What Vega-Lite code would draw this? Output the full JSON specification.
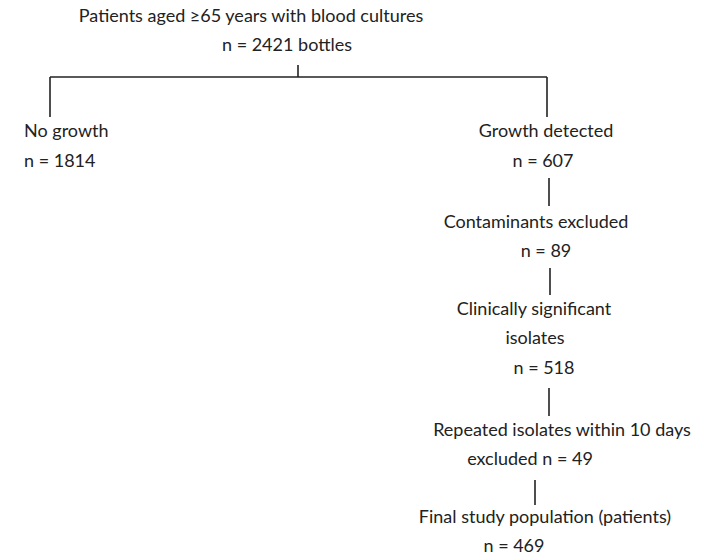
{
  "$schema": "https://vega.github.io/schema/vega-lite/v6.json",
  "width": 709,
  "height": 560,
  "padding": 0,
  "autosize": {"type": "fit", "contains": "padding"},
  "background": "white",
  "config": {"view": {"stroke": null}},
  "datasets": {
    "links": [
      {"x": 298, "x2": 298, "y": 65, "y2": 77},
      {"x": 50, "x2": 547, "y": 77, "y2": 77},
      {"x": 50, "x2": 50, "y": 77, "y2": 117},
      {"x": 547, "x2": 547, "y": 77, "y2": 117},
      {"x": 549, "x2": 549, "y": 178, "y2": 206},
      {"x": 550, "x2": 550, "y": 268, "y2": 295},
      {"x": 549, "x2": 549, "y": 388, "y2": 416},
      {"x": 535, "x2": 535, "y": 480, "y2": 505}
    ],
    "centred": [
      {"x": 251, "y": 17, "label": "Patients aged ≥65 years with blood cultures"},
      {"x": 287, "y": 46, "label": "n = 2421 bottles"},
      {"x": 546, "y": 132, "label": "Growth detected"},
      {"x": 543, "y": 162, "label": "n = 607"},
      {"x": 536, "y": 223, "label": "Contaminants excluded"},
      {"x": 546, "y": 252, "label": "n = 89"},
      {"x": 534, "y": 310, "label": "Clinically significant"},
      {"x": 535, "y": 339, "label": "isolates"},
      {"x": 544, "y": 369, "label": "n = 518"},
      {"x": 562, "y": 431, "label": "Repeated isolates within 10 days"},
      {"x": 530, "y": 460, "label": "excluded n = 49"},
      {"x": 545, "y": 518, "label": "Final study population (patients)"},
      {"x": 514, "y": 547, "label": "n = 469"}
    ],
    "left": [
      {"x": 24, "y": 132, "label": "No growth"},
      {"x": 24, "y": 162, "label": "n = 1814"}
    ]
  },
  "layer": [
    {
      "data": {"name": "links"},
      "mark": {"type": "rule", "color": "#222222", "strokeWidth": 1.6},
      "encoding": {
        "x": {"field": "x", "type": "quantitative", "scale": {"domain": [0, 709], "nice": false, "zero": false}, "axis": null},
        "x2": {"field": "x2"},
        "y": {"field": "y", "type": "quantitative", "scale": {"domain": [0, 560], "nice": false, "zero": false, "reverse": true}, "axis": null},
        "y2": {"field": "y2"}
      }
    },
    {
      "data": {"name": "centred"},
      "mark": {"type": "text", "align": "center", "baseline": "middle", "font": "Lato", "fontSize": 18, "color": "#222222"},
      "encoding": {
        "x": {"field": "x", "type": "quantitative"},
        "y": {"field": "y", "type": "quantitative"},
        "text": {"field": "label"}
      }
    },
    {
      "data": {"name": "left"},
      "mark": {"type": "text", "align": "left", "baseline": "middle", "font": "Lato", "fontSize": 18, "color": "#222222"},
      "encoding": {
        "x": {"field": "x", "type": "quantitative"},
        "y": {"field": "y", "type": "quantitative"},
        "text": {"field": "label"}
      }
    }
  ]
}
